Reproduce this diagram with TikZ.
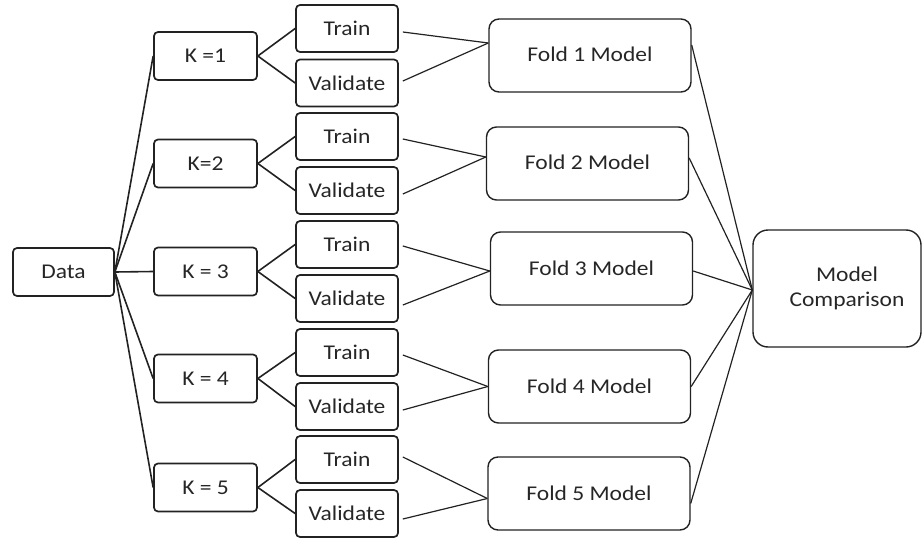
\documentclass[tikz,border=0pt]{standalone}
\usepackage{fontspec}
\setmainfont{Carlito}[FakeStretch=1.12]
\usetikzlibrary{calc}
\definecolor{linec}{HTML}{222222}
\definecolor{txtc}{HTML}{262626}
\begin{document}
\begin{tikzpicture}[x=1pt,y=-1pt,
  lbl/.style={font=\fontsize{21}{25}\selectfont, text=txtc},
  sbox/.style={lbl, draw=linec, line width=1.7pt, rounded corners=4pt,
    minimum width=102pt, minimum height=47pt, inner sep=0pt},
  fbox/.style={lbl, draw=linec, line width=1.4pt, rounded corners=10pt,
    minimum width=202pt, minimum height=73pt, inner sep=0pt},
  mcbox/.style={draw=linec, line width=1.4pt, rounded corners=15pt,
    minimum width=168pt, minimum height=117pt, inner sep=0pt},
  link/.style={draw=linec, line width=1.6pt},
  flink/.style={draw=linec, line width=1.2pt}]
\useasboundingbox (0,0) rectangle (924,538);

% Data and K boxes
\node[sbox, minimum width=101pt, minimum height=48pt] (data) at (63.5,272) {Data};
\node[sbox, minimum width=103pt, minimum height=48pt] (k1) at (205.5,56) {K =1};
\node[sbox, minimum width=103pt, minimum height=48pt] (k2) at (205.5,163.5) {K=2};
\node[sbox, minimum width=103pt, minimum height=48pt] (k3) at (205.5,271.5) {K = 3};
\node[sbox, minimum width=103pt, minimum height=48pt] (k4) at (205.5,378.5) {K = 4};
\node[sbox, minimum width=103pt, minimum height=48pt] (k5) at (205.5,487.5) {K = 5};

% Train / Validate boxes
\node[sbox] (t1) at (347,28.5) {Train};
\node[sbox] (v1) at (347,83) {Validate};
\node[sbox] (t2) at (347,136.5) {Train};
\node[sbox] (v2) at (347,190.5) {Validate};
\node[sbox] (t3) at (347,244.5) {Train};
\node[sbox] (v3) at (347,298.5) {Validate};
\node[sbox] (t4) at (347,352.5) {Train};
\node[sbox] (v4) at (347,406.5) {Validate};
\node[sbox] (t5) at (347,459.5) {Train};
\node[sbox] (v5) at (347,513.5) {Validate};

% Fold model boxes
\node[fbox] (f1) at (590,55.5) {\raisebox{3pt}{Fold 1 Model}};
\node[fbox] (f2) at (587.5,163.5) {\raisebox{2pt}{Fold 2 Model}};
\node[fbox] (f3) at (591.5,268.5) {Fold 3 Model};
\node[fbox] (f4) at (589.5,386.5) {Fold 4 Model};
\node[fbox] (f5) at (589,493.5) {Fold 5 Model};

% Model comparison
\node[mcbox, label={[lbl, align=center, xshift=10pt]center:Model\\Comparison}] (mc) at (837,288.5) {};
\coordinate (mcin) at ([yshift=-1.5pt]mc.west);

% Data -> K
\foreach \k in {1,...,5} {\draw[link] (data.east) -- (k\k.west);}
% K -> Train / Validate
\foreach \k in {1,...,5} {
  \draw[link] (k\k.east) -- (t\k.west);
  \draw[link] (k\k.east) -- (v\k.west);
}
% Train / Validate -> Fold
\draw[flink] ([xshift=4pt,yshift=-3.5pt]t1.east) -- ([yshift=12.5pt]f1.west);
\draw[flink] ([xshift=4pt,yshift=2pt]v1.east) -- ([yshift=12.5pt]f1.west);
\draw[flink] ([xshift=4pt,yshift=-2.5pt]t2.east) -- ([yshift=6.5pt]f2.west);
\draw[flink] ([xshift=4pt,yshift=-3.5pt]v2.east) -- ([yshift=6.5pt]f2.west);
\draw[flink] ([xshift=4pt,yshift=-1.5pt]t3.east) -- ([yshift=-2.5pt]f3.west);
\draw[flink] ([xshift=4pt,yshift=-6.5pt]v3.east) -- ([yshift=-2.5pt]f3.west);
\draw[flink] ([xshift=4pt,yshift=-2.5pt]t4.east) -- ([yshift=0pt]f4.west);
\draw[flink] ([xshift=4pt,yshift=-3.5pt]v4.east) -- ([yshift=0pt]f4.west);
\draw[flink] ([xshift=4pt,yshift=2.5pt]t5.east) -- ([yshift=-5pt]f5.west);
\draw[flink] ([xshift=4pt,yshift=-5.5pt]v5.east) -- ([yshift=-5pt]f5.west);

% Fold -> Model comparison
\draw[flink] ([yshift=10.5pt]f1.east) -- (mcin);
\draw[flink] ([yshift=5.5pt]f2.east) -- (mcin);
\draw[flink] ([yshift=-2.5pt]f3.east) -- (mcin);
\draw[flink] ([yshift=0pt]f4.east) -- (mcin);
\draw[flink] ([yshift=-10pt]f5.east) -- (mcin);
\end{tikzpicture}
\end{document}
